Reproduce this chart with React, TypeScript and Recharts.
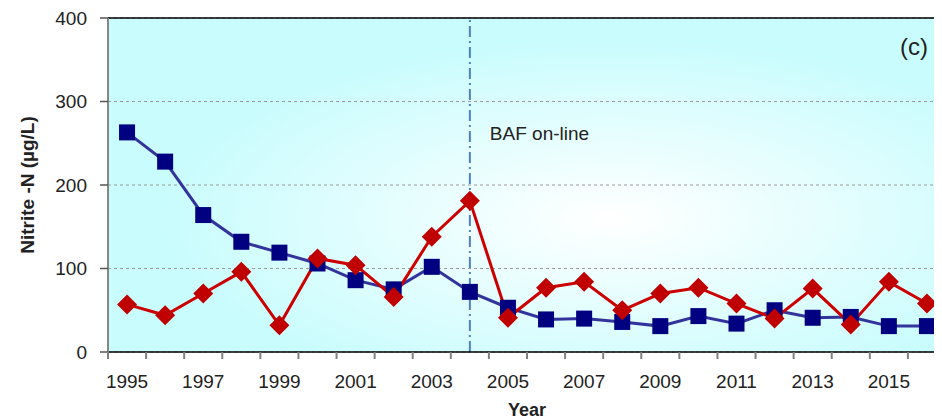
import { CartesianGrid, Line, LineChart, ReferenceLine, XAxis, YAxis } from "recharts";

const years = [
  "1995", "1996", "1997", "1998", "1999", "2000", "2001", "2002", "2003", "2004", "2005",
  "2006", "2007", "2008", "2009", "2010", "2011", "2012", "2013", "2014", "2015", "2016",
];
// blue squares
const seriesSquare = [263, 228, 164, 132, 119, 106, 86, 75, 102, 72, 53, 39, 40, 36, 31, 43, 34, 50, 41, 42, 31, 31];
// red diamonds
const seriesDiamond = [57, 44, 70, 96, 32, 112, 104, 66, 138, 181, 41, 77, 84, 50, 70, 77, 58, 40, 76, 33, 84, 58];
const yTicks = [0, 100, 200, 300, 400];
const onlineYear = "2004";

const data = years.map((year, i) => ({ year, sq: seriesSquare[i], dm: seriesDiamond[i] }));

const font = "'Liberation Sans', Arial, sans-serif";

const SquareDot = (props: any) => {
  const { cx, cy, index } = props;
  if (cx == null || cy == null) return <g key={`s${index}`} />;
  return <rect key={`s${index}`} x={cx - 8} y={cy - 8} width={16} height={16} fill="#000080" />;
};

const DiamondDot = (props: any) => {
  const { cx, cy, index } = props;
  if (cx == null || cy == null) return <g key={`d${index}`} />;
  const r = 10;
  return (
    <polygon
      key={`d${index}`}
      points={`${cx},${cy - r} ${cx + r},${cy} ${cx},${cy + r} ${cx - r},${cy}`}
      fill="#C00000"
    />
  );
};

const YearTick = (props: any) => {
  const { x, y, payload, index } = props;
  const off = payload?.offset ?? 19;
  return (
    <g>
      <line x1={x - off} x2={x - off} y1={y - 7} y2={y} stroke="#808080" strokeWidth={2} />
      {index % 2 === 0 && (
        <text x={x} y={y + 29} textAnchor="middle" fontSize={19} fontFamily={font} fill="#222">
          {payload.value}
        </text>
      )}
    </g>
  );
};

export default function App() {
  return (
    <div style={{ margin: "-8px 0 0 -8px", width: 942, height: 419, overflow: "hidden", position: "relative", background: "#fff" }}>
      <div style={{ position: "absolute", left: 0, top: 1, width: 942, height: 1, background: "#cfcfcf", zIndex: 2 }} />
      <LineChart width={956} height={419} data={data} margin={{ top: 18, right: 10, bottom: 17, left: 0 }}>
        <defs>
          <radialGradient id="plotBg" cx="0.6" cy="0.6" r="0.55">
            <stop offset="0" stopColor="#ffffff" />
            <stop offset="1" stopColor="#c8fcfd" />
          </radialGradient>
        </defs>
        <CartesianGrid
          vertical={false}
          fill="url(#plotBg)"
          fillOpacity={1}
          stroke="#9a9a9a"
          strokeDasharray="3 3"
        />
        <XAxis
          dataKey="year"
          scale="band"
          interval={0}
          height={50}
          tickSize={7}
          tickMargin={0}
          tickLine={false}
          stroke="#000"
          strokeWidth={1.5}
          tick={<YearTick />}
          label={({ viewBox }: any) => (
            <text
              x={viewBox.x + viewBox.width / 2}
              y={viewBox.y + 64}
              textAnchor="middle"
              fontSize={18}
              fontWeight="bold"
              fontFamily={font}
              fill="#222"
            >
              Year
            </text>
          )}
        />
        <YAxis
          width={108}
          domain={[0, 400]}
          ticks={yTicks}
          tickSize={8}
          tickMargin={13}
          stroke="#868686"
          strokeWidth={2}
          tickLine={{ stroke: "#555", strokeWidth: 1.5 }}
          tick={{ fontSize: 19, fontFamily: font, fill: "#222" }}
          label={({ viewBox }: any) => (
            <text
              x={viewBox.x + 27}
              y={viewBox.y + viewBox.height / 2}
              transform={`rotate(-90 ${viewBox.x + 27} ${viewBox.y + viewBox.height / 2})`}
              textAnchor="middle"
              dominantBaseline="central"
              fontSize={19}
              fontWeight="bold"
              fontFamily={font}
              fill="#222"
            >
              Nitrite -N (µg/L)
            </text>
          )}
        />
        <ReferenceLine
          y={400}
          stroke="#000"
          strokeWidth={1.5}
          label={({ viewBox }: any) => (
            <text
              x={viewBox.x + viewBox.width - 18}
              y={viewBox.y + 37}
              textAnchor="end"
              fontSize={24}
              fontFamily={font}
              fill="#222"
            >
              (c)
            </text>
          )}
        />
        <Line
          dataKey="sq"
          stroke="#33339c"
          strokeWidth={3}
          dot={SquareDot}
          activeDot={false}
          isAnimationActive={false}
        />
        <Line
          dataKey="dm"
          stroke="#cc0000"
          strokeWidth={3}
          dot={DiamondDot}
          activeDot={false}
          isAnimationActive={false}
        />
        <ReferenceLine
          x={onlineYear}
          stroke="#4f81bd"
          strokeWidth={2}
          strokeDasharray="11 4 2 4"
          label={({ viewBox }: any) => (
            <text x={viewBox.x + 20} y={viewBox.y + 122} fontSize={19} fontFamily={font} fill="#222">
              BAF on-line
            </text>
          )}
        />
      </LineChart>
    </div>
  );
}
